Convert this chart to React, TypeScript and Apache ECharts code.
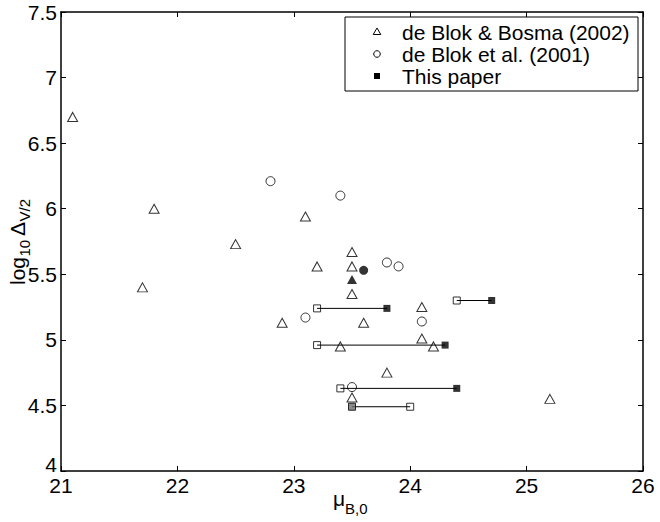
import React, { useEffect, useRef } from "react";
import * as echarts from "echarts";

// de Blok & Bosma (2002) – open triangles
const bosmaX = [21.1, 21.8, 22.5, 21.7, 23.1, 23.5, 23.2, 23.5, 23.5, 22.9, 23.6, 24.1, 24.1, 23.4, 24.2, 23.8, 23.5, 25.2];
const bosmaY = [6.70, 6.00, 5.73, 5.40, 5.94, 5.67, 5.56, 5.56, 5.35, 5.13, 5.13, 5.25, 5.01, 4.95, 4.95, 4.75, 4.56, 4.55];
// de Blok et al. (2001) – open circles
const blok2001X = [22.8, 23.4, 23.8, 23.9, 23.1, 24.1, 23.5];
const blok2001Y = [6.21, 6.10, 5.59, 5.56, 5.17, 5.14, 4.64];
// highlighted (filled) objects
const filledTriangle = [[23.5, 5.46]];
const filledCircle = [[23.6, 5.53]];
// This paper – open square (start) joined to filled square (end)
const paperOpenX = [23.2, 24.4, 23.2, 23.4, 24.0];
const paperFilledX = [23.8, 24.7, 24.3, 24.4, 23.5];
const paperY = [5.24, 5.30, 4.96, 4.63, 4.49];

const xTicks = { min: 21, max: 26, interval: 1 };
const yTicks = { min: 4, max: 7.5, interval: 0.5 };
const legendNames = ["de Blok & Bosma (2002)", "de Blok et al. (2001)", "This paper"];

const FONT = "Liberation Sans, Arial, Helvetica, sans-serif";

export default function App() {
  const ref = useRef<HTMLDivElement>(null);
  useEffect(() => {
    if (!ref.current) return;
    const chart = echarts.init(ref.current, undefined, { renderer: "svg" });
    const axisLine = { show: true, onZero: false, lineStyle: { color: "#000", width: 1.5 } };
    const axisTick = { show: true, inside: true, length: 5, lineStyle: { color: "#000", width: 1 } };
    const mkX = (position: string, labels: boolean) => ({
      type: "value",
      position,
      ...xTicks,
      axisLine,
      axisTick,
      splitLine: { show: false },
      axisLabel: { show: labels, color: "#000", fontSize: 21, lineHeight: 12, fontFamily: FONT, margin: 8 },
    });
    const mkY = (position: string, labels: boolean) => ({
      type: "value",
      position,
      ...yTicks,
      axisLine,
      axisTick,
      splitLine: { show: false },
      axisLabel: {
        show: labels,
        color: "#000",
        fontSize: 21,
        lineHeight: 12,
        fontFamily: FONT,
        margin: 4,
        formatter: (v: number) => (v === yTicks.min ? `{lo|${v}}` : `${v}`),
        rich: { lo: { fontSize: 21, lineHeight: 12, fontFamily: FONT, color: "#000", padding: [0, 0, 14, 0] } },
      },
    });
    const whiteMarker = { color: "#fff", borderColor: "#000", borderWidth: 1 };
    const lineSeries = paperY.map((y, i) => ({
      type: "line",
      name: "pair" + i,
      data: [[paperOpenX[i], y], [paperFilledX[i], y]],
      symbol: "none",
      lineStyle: { color: "#000", width: 1 },
      z: 3,
      silent: true,
    }));
    const option: any = {
      animation: false,
      grid: { left: 61, top: 12, right: 17, bottom: 51 },
      xAxis: [mkX("bottom", true), mkX("top", false)],
      yAxis: [mkY("left", true), mkY("right", false)],
      series: [
        {
          type: "scatter",
          name: legendNames[0],
          data: bosmaX.map((x, i) => [x, bosmaY[i]]),
          symbol: "triangle",
          symbolSize: [10, 9],
          itemStyle: whiteMarker,
          silent: true,
        },
        {
          type: "scatter",
          name: legendNames[1],
          data: blok2001X.map((x, i) => [x, blok2001Y[i]]),
          symbol: "circle",
          symbolSize: 9,
          itemStyle: whiteMarker,
          silent: true,
        },
        {
          type: "scatter",
          name: "filledTriangle",
          data: filledTriangle,
          symbol: "triangle",
          symbolSize: [10, 9],
          itemStyle: { color: "#000" },
          silent: true,
        },
        {
          type: "scatter",
          name: "filledCircle",
          data: filledCircle,
          symbol: "circle",
          symbolSize: 9,
          itemStyle: { color: "#000" },
          silent: true,
        },
        {
          type: "scatter",
          name: "paperOpen",
          data: paperOpenX.map((x, i) => [x, paperY[i]]),
          symbol: "rect",
          symbolSize: 7,
          itemStyle: whiteMarker,
          z: 2,
          silent: true,
        },
        ...lineSeries,
        {
          type: "scatter",
          name: legendNames[2],
          data: paperFilledX.map((x, i) =>
            i === paperFilledX.length - 1
              ? { value: [x, paperY[i]], itemStyle: { color: "#6e6e6e", borderColor: "#000", borderWidth: 1 } }
              : [x, paperY[i]]
          ),
          symbol: "rect",
          symbolSize: 7,
          itemStyle: { color: "#000" },
          z: 4,
          silent: true,
        },
      ],
      graphic: [
        // legend
        {
          type: "group",
          z: 100,
          children: [
            { type: "rect", shape: { x: 345, y: 17, width: 293, height: 74 }, style: { fill: "#fff", stroke: "#000", lineWidth: 1 } },
            { type: "polygon", shape: { points: [[377, 28], [380.8, 34.5], [373.2, 34.5]] }, style: { fill: "#fff", stroke: "#000", lineWidth: 1 } },
            { type: "circle", shape: { cx: 377, cy: 54, r: 3.3 }, style: { fill: "#fff", stroke: "#000", lineWidth: 1 } },
            { type: "rect", shape: { x: 374, y: 73, width: 6, height: 6 }, style: { fill: "#000" } },
            ...legendNames.map((t, i) => ({
              type: "text",
              x: 402,
              y: 32 + i * 22,
              style: { text: t, fill: "#000", font: `21px ${FONT}`, textAlign: "left", textVerticalAlign: "middle" },
            })),
          ],
        },
        // x axis title  μ_{B,0}
        {
          type: "group",
          z: 100,
          children: [
            { type: "text", x: 333, y: 498, style: { text: "μ", fill: "#000", font: `21px ${FONT}`, textAlign: "left", textVerticalAlign: "middle" } },
            { type: "text", x: 345, y: 508, style: { text: "B,0", fill: "#000", font: `15px ${FONT}`, textAlign: "left", textVerticalAlign: "middle" } },
          ],
        },
        // y axis title  log_{10} Δ_{V/2}
        {
          type: "group",
          z: 100,
          x: 17,
          y: 241,
          rotation: Math.PI / 2,
          children: [
            { type: "text", x: -44, y: 0, style: { text: "log", fill: "#000", font: `21px ${FONT}`, textAlign: "left", textVerticalAlign: "middle" } },
            { type: "text", x: -15.5, y: 7, style: { text: "10", fill: "#000", font: `15px ${FONT}`, textAlign: "left", textVerticalAlign: "middle" } },
            { type: "text", x: 5, y: 0, style: { text: "Δ", fill: "#000", font: `21px ${FONT}`, textAlign: "left", textVerticalAlign: "middle" } },
            { type: "text", x: 19.5, y: 7, style: { text: "V/2", fill: "#000", font: `15px ${FONT}`, textAlign: "left", textVerticalAlign: "middle" } },
          ],
        },
      ],
    };
    chart.setOption(option);
    return () => chart.dispose();
  }, []);
  return <div ref={ref} style={{ position: "absolute", left: 0, top: 0, width: 660, height: 522 }} />;
}
